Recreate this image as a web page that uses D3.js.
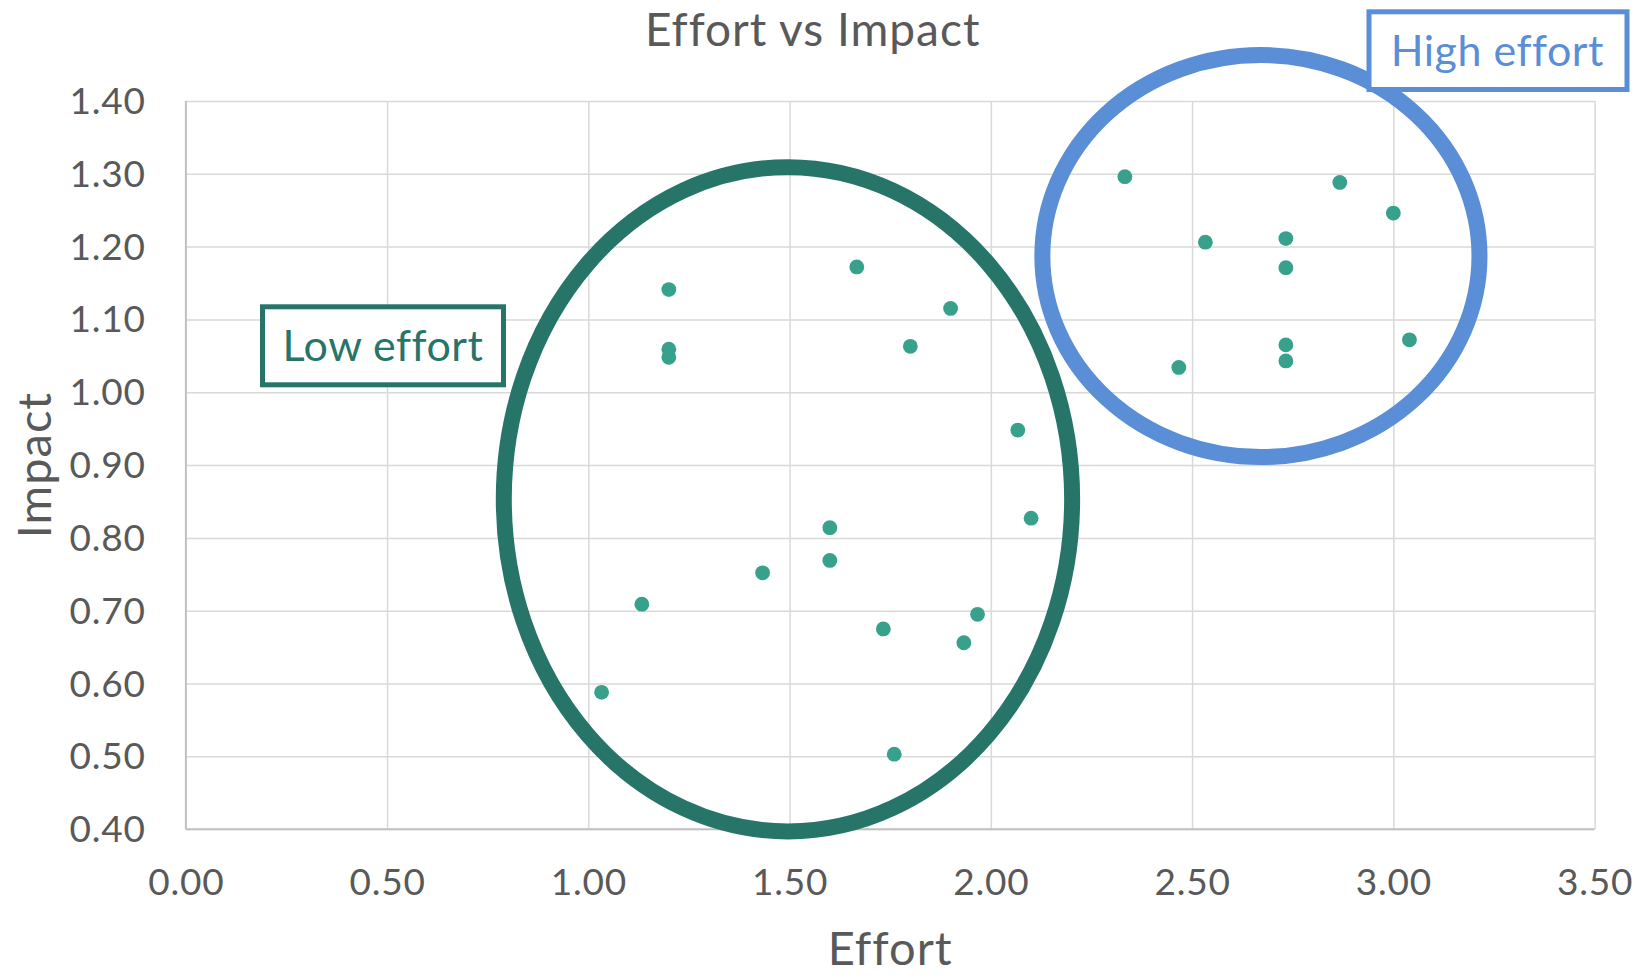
<!DOCTYPE html>
<html>
<head>
<meta charset="utf-8">
<script src="https://cdn.jsdelivr.net/npm/d3@7"></script>
<style>
  html, body { margin: 0; padding: 0; background: #fff; }
  text { font-family: Lato, "Open Sans", sans-serif; fill: #595959; }
</style>
</head>
<body>
<div id="chart"></div>
<script>
// data
const effort = [1.033, 1.133, 1.2, 1.2, 1.2, 1.433, 1.6, 1.6, 1.667, 1.733, 1.76, 1.8, 1.9, 1.933, 1.967, 2.067, 2.1,
                2.333, 2.467, 2.533, 2.733, 2.733, 2.733, 2.733, 2.867, 3.0, 3.04];
const impact = [0.588, 0.709, 1.141, 1.059, 1.048, 0.752, 0.814, 0.769, 1.172, 0.675, 0.503, 1.063, 1.115, 0.656, 0.695, 0.948, 0.827,
                1.296, 1.034, 1.206, 1.211, 1.171, 1.065, 1.043, 1.288, 1.246, 1.072];
const xTicks = [0, 0.5, 1, 1.5, 2, 2.5, 3, 3.5];
const yTicks = [0.4, 0.5, 0.6, 0.7, 0.8, 0.9, 1.0, 1.1, 1.2, 1.3, 1.4];

// hand drawn groupings (in data units)
const groupNames = ["Low effort", "High effort"];
const groupCenters = [[1.496, 0.853], [2.671, 1.187]];
const groupRadii = [[0.706, 0.456], [0.543, 0.276]];

// set the dimensions of the graph
const width = 1639, height = 976;
const plot = { left: 185.8, right: 1594.6, top: 100.9, bottom: 829.2 };

const svg = d3.select("#chart")
    .append("svg")
    .attr("width", width)
    .attr("height", height);

// Scales
const x = d3.scaleLinear().domain([0, 3.5]).range([plot.left, plot.right]);
const y = d3.scaleLinear().domain([0.4, 1.4]).range([plot.bottom, plot.top]);
const fmt = d3.format(".2f");

// gridlines + tick labels
const xAxis = svg.append("g")
    .attr("transform", `translate(0,${plot.bottom})`)
    .call(d3.axisBottom(x).tickValues(xTicks).tickFormat(fmt)
        .tickSize(-(plot.bottom - plot.top)).tickPadding(40));
const yAxis = svg.append("g")
    .attr("transform", `translate(${plot.left},0)`)
    .call(d3.axisLeft(y).tickValues(yTicks).tickFormat(fmt)
        .tickSize(-(plot.right - plot.left)).tickPadding(40));

[xAxis, yAxis].forEach(g => {
    g.select(".domain").remove();
    g.selectAll(".tick line").attr("stroke", "#d9d9d9").attr("stroke-width", 1.5);
    g.selectAll(".tick text")
        .style("font-size", "37px")
        .style("letter-spacing", "0.8px")
        .attr("fill", "#595959");
});
yAxis.selectAll(".tick text").attr("dy", "0.34em");

// axis lines (left + bottom a bit darker)
svg.append("line")
    .attr("x1", x(0)).attr("x2", x(3.5)).attr("y1", y(0.4)).attr("y2", y(0.4))
    .attr("stroke", "#bfbfbf").attr("stroke-width", 1.8);
svg.append("line")
    .attr("x1", x(0)).attr("x2", x(0)).attr("y1", y(0.4)).attr("y2", y(1.4))
    .attr("stroke", "#bfbfbf").attr("stroke-width", 1.8);

// the points
svg.append("g")
    .selectAll("circle")
    .data(effort.map((e, i) => [e, impact[i]]))
    .join("circle")
    .attr("cx", d => x(d[0]))
    .attr("cy", d => y(d[1]))
    .attr("r", 7.4)
    .attr("fill", "#38a18c");

// ellipses
const groupColors = ["#267568", "#5a8ed6"];
svg.append("g")
    .selectAll("ellipse")
    .data(groupNames)
    .join("ellipse")
    .attr("cx", (d, i) => x(groupCenters[i][0]))
    .attr("cy", (d, i) => y(groupCenters[i][1]))
    .attr("rx", (d, i) => x(groupRadii[i][0]) - x(0))
    .attr("ry", (d, i) => y(0.4) - y(0.4 + groupRadii[i][1]))
    .attr("fill", "none")
    .attr("stroke", (d, i) => groupColors[i])
    .attr("stroke-width", 16);

// label boxes
const boxes = [
    { x: 262.5, y: 306.8, w: 241, h: 78, tx: 383, ty: 361 },
    { x: 1369, y: 11.8, w: 258, h: 77.7, tx: 1497.3, ty: 65.5 }
];
const lab = svg.append("g")
    .selectAll("g")
    .data(groupNames)
    .join("g");
lab.append("rect")
    .attr("x", (d, i) => boxes[i].x).attr("y", (d, i) => boxes[i].y)
    .attr("width", (d, i) => boxes[i].w).attr("height", (d, i) => boxes[i].h)
    .attr("fill", "#fff")
    .attr("stroke", (d, i) => groupColors[i])
    .attr("stroke-width", 5);
lab.append("text")
    .attr("x", (d, i) => boxes[i].tx).attr("y", (d, i) => boxes[i].ty)
    .attr("text-anchor", "middle")
    .style("font-size", "43px")
    .style("letter-spacing", "0.5px")
    .style("fill", (d, i) => groupColors[i])
    .text(d => d);

// title and axis titles
svg.append("text")
    .attr("x", 812.7).attr("y", 46)
    .attr("text-anchor", "middle")
    .style("font-size", "46px")
    .style("letter-spacing", "1px")
    .text("Effort vs Impact");
svg.append("text")
    .attr("x", (plot.left + plot.right) / 2).attr("y", 965)
    .attr("text-anchor", "middle")
    .style("font-size", "47px")
    .style("letter-spacing", "1px")
    .text("Effort");
svg.append("text")
    .attr("transform", `translate(51,${(plot.top + plot.bottom) / 2}) rotate(-90)`)
    .attr("text-anchor", "middle")
    .style("font-size", "47px")
    .style("letter-spacing", "1px")
    .text("Impact");
</script>
</body>
</html>
